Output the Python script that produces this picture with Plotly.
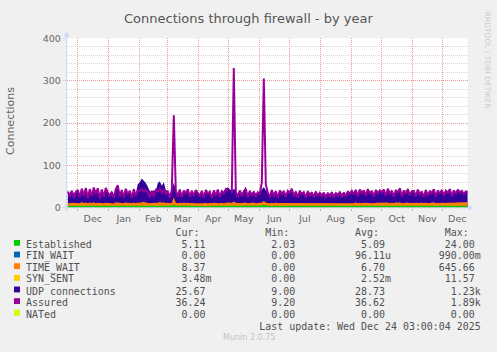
import numpy as np
import pandas as pd
import plotly.graph_objects as go

# ---- data: one value every 2 days, 2024-11-21 .. 2025-12-27 (None = no data) ----
established = (
    [5, 5, 4.5, 5, 5.5] +
    [5, 4.5, 5.5, 5, 5, 4.5, 5.5, 5, 5, 4.5, 5, 5.5, 4.5, 5, 5, 5] +
    [5, 5, 4.5, 5.5, 5, 5, 4.5, 5, 5.5, 5, 5, 4.5, 5, 5, 5.5] +
    [5, 5.5, 6, 5.5, 5, 5, 4.5, 5, 5, 5.5, 6, 5, 5.5, 5] +
    [5, 4.5, 5, 7, 5, 5, 4.5, 5, 5.5, 5, 5, 4.5, 5, 5, 4.5, 4] +
    [4, 3.5, 4, 4.5, 4, 5, 4.5, 5, 5, 4.5, 5, 5, 4.5, 5, 5] +
    [None] +
    [5, 6, 5, 5, 4.5, 5, 5.5, 5, 5, 4.5, 5, 5.5, 5, 5] +
    [5, 5.5, 7, 5.5, 5, 4.5, 5, 5, 5.5, 5, 4.5, 5, 5, 5.5, 5] +
    [5, 5, 4.5, 5, 5.5, 5, 5, 4.5, 5, 5, 5.5, 5, 4.5, 5, 5, 5] +
    [5, 4.5, 5, 5, 5.5, 5, 4.5, 5, 5, 5, 5.5, 5, 4.5, 5, 5] +
    [5, 5, 5.5, 5, 5, 4.5, 5, 5.5, 5, 5, 4.5, 5, 5, 5.5, 5] +
    [5, 5.5, 5, 5, 4.5, 5, 5, 5.5, 5, 5, 4.5, 5, 5.5, 5, 5, 5] +
    [5, 5, 4.5, 5, 5.5, 5, 5, 4.5, 5, 5, 5.5, 5, 5, 4.5] +
    [5, 5, 5.5, 5, 4.5, 5, 5, 5.5, 5, 5, 4.5, 5, 5, 5]
)
time_wait = (
    [7, 6, 7.5, 6.5, 7] +
    [7, 6, 8, 6.5, 7.5, 6, 7, 6.5, 8, 6, 7, 6, 7.5, 6, 7, 6.5] +
    [6, 7, 5.5, 7.5, 7, 6, 7, 6, 7.5, 6.5, 7, 6, 7.5, 6, 7] +
    [7, 7.5, 8, 7, 6.5, 6, 7, 6, 7, 6.5, 7.5, 7, 7.5, 6.5] +
    [7, 6, 7, 18, 7, 6, 7.5, 6, 7, 6.5, 7, 6, 7, 6, 6.5, 6] +
    [6, 6.5, 7, 7.5, 6, 7, 6, 7, 6.5, 7, 6, 7, 6.5, 7, 7.5] +
    [None] +
    [7, 9, 7, 6, 7, 6.5, 7, 7.5, 6, 7, 6.5, 7, 6, 7] +
    [6.5, 7, 9, 7, 6.5, 6, 7, 6, 7, 6, 7, 6.5, 7, 6, 7] +
    [6.5, 7, 6, 7, 6, 7, 6.5, 6.5, 6, 7, 6, 6.5, 6, 7, 6, 6.5] +
    [6, 6.5, 6, 7, 6, 6.5, 6, 7, 6.5, 6.5, 6, 7, 6, 7, 6.5] +
    [7, 6, 7.5, 6, 7, 6.5, 7, 6, 7.5, 6.5, 7, 6, 7, 6.5, 7] +
    [7, 7.5, 6.5, 7.5, 6.5, 7, 6, 7.5, 7, 8, 6.5, 7, 6.5, 7.5, 6.5, 7] +
    [7, 6.5, 7.5, 6.5, 7, 6, 7.5, 6.5, 7, 7, 7.5, 6, 7, 6.5] +
    [7.5, 6.5, 7, 7, 7.5, 6.5, 7, 7, 7.5, 7, 7, 7, 8, 8.4]
)
udp = (
    [27, 24, 29, 22, 28] +
    [30, 22, 33, 25, 34, 21, 32, 24, 35, 26, 33, 20, 31, 23, 34, 27] +
    [22, 27, 20, 30, 33, 22, 29, 21, 31, 24, 28, 20, 30, 23, 43] +
    [48, 56, 50, 46, 38, 28, 26, 30, 28, 46, 49, 40, 48, 30] +
    [28, 21, 30, 34, 29, 22, 31, 21, 30, 24, 32, 21, 29, 23, 31, 26] +
    [23, 29, 20, 31, 25, 28, 19, 30, 23, 32, 21, 29, 26, 33, 36] +
    [None] +
    [27, 30, 28, 21, 30, 22, 29, 38, 20, 30, 23, 28, 22, 27] +
    [25, 30, 33, 29, 27, 21, 31, 23, 29, 20, 31, 25, 28, 22, 30] +
    [26, 34, 22, 28, 20, 29, 24, 27, 19, 29, 23, 27, 21, 28, 22, 26] +
    [22, 26, 19, 25, 21, 27, 20, 25, 22, 27, 21, 26, 22, 28, 25] +
    [30, 24, 31, 22, 32, 26, 30, 23, 32, 25, 30, 22, 31, 25, 30] +
    [27, 32, 23, 33, 25, 30, 22, 31, 26, 34, 22, 30, 25, 33, 24, 29] +
    [30, 22, 31, 24, 28, 21, 31, 23, 29, 25, 32, 21, 30, 24] +
    [31, 23, 30, 26, 32, 22, 30, 24, 31, 27, 29, 24, 28, 26]
)
assured = (
    [38, 27, 40, 24, 36] +
    [42, 25, 45, 28, 47, 23, 44, 27, 48, 33, 46, 22, 43, 26, 47, 35] +
    [27, 38, 23, 44, 53, 27, 42, 25, 45, 32, 40, 24, 44, 28, 40] +
    [40, 44, 38, 42, 35, 25, 40, 27, 42, 38, 44, 36, 41, 33] +
    [38, 24, 42, 218, 40, 27, 43, 25, 41, 33, 44, 26, 40, 28, 42, 35] +
    [27, 40, 24, 42, 33, 38, 23, 41, 28, 43, 25, 39, 34, 44, 40] +
    [None] +
    [35, 330, 38, 25, 41, 27, 39, 44, 24, 40, 28, 38, 26, 36] +
    [32, 60, 305, 55, 36, 25, 42, 27, 39, 24, 41, 33, 38, 26, 40] +
    [35, 45, 27, 38, 24, 40, 32, 37, 23, 39, 28, 36, 25, 38, 27, 35] +
    [27, 36, 23, 35, 26, 37, 24, 34, 28, 38, 25, 36, 27, 39, 33] +
    [40, 32, 42, 27, 43, 35, 41, 28, 44, 33, 40, 26, 42, 34, 41] +
    [36, 43, 28, 45, 33, 40, 26, 42, 35, 46, 27, 41, 33, 44, 29, 39] +
    [40, 27, 43, 32, 38, 25, 42, 28, 40, 34, 44, 26, 41, 33] +
    [42, 28, 40, 35, 44, 27, 41, 33, 43, 36, 40, 32, 38, 36]
)

legend_labels = ["Established", "FIN_WAIT", "TIME_WAIT", "SYN_SENT",
                 "UDP connections", "Assured", "NATed"]
legend_colors = ["#00CC00", "#0066B3", "#FF8000", "#FFCC00",
                 "#330099", "#990099", "#CCFF00"]
cur_vals = ["5.11", "0.00", "8.37", "3.48m", "25.67", "36.24", "0.00"]
min_vals = ["2.03", "0.00", "0.00", "0.00", "9.00", "9.20", "0.00"]
avg_vals = ["5.09", "96.11u", "6.70", "2.52m", "28.73", "36.62", "0.00"]
max_vals = ["24.00", "990.00m", "645.66", "11.57", "1.23k", "1.89k", "0.00"]

n = len(assured)
dates = pd.date_range("2024-11-21 12:00", periods=n, freq="2D")

E = np.array(established, dtype=float)
T = np.array(time_wait, dtype=float)
U = np.array(udp, dtype=float)
A = np.array(assured, dtype=float)
stack1 = E
stack2 = E + T
stack3 = E + T + U

W, H = 497, 352
def PX(x): return x / W
def PY(y): return 1 - y / H

fig = go.Figure()
for ys, col in [(stack3, "#330099"), (stack2, "#FF8000"), (stack1, "#00CC00")]:
    fig.add_trace(go.Scatter(x=dates, y=ys, mode="lines", fill="tozeroy",
                             fillcolor=col, line=dict(width=0, color=col),
                             connectgaps=False, showlegend=False, hoverinfo="skip"))
fig.add_trace(go.Scatter(x=dates, y=A, mode="lines", line=dict(width=2, color="#990099"),
                         connectgaps=False, showlegend=False, hoverinfo="skip"))

MAJ = "#EE9A9A"
MIN = "#D4D4D4"
AX = "#CFD6F8"
FONT = "#666666"

fig.update_layout(
    width=W, height=H, margin=dict(l=0, r=0, t=0, b=0),
    paper_bgcolor="#F0F0F0", plot_bgcolor="#FFFFFF",
    xaxis=dict(domain=[PX(66.7), PX(467.7)], type="date",
               range=["2024-11-20 09:36", "2025-12-26 09:36"],
               dtick="M1", tick0="2024-12-01", tickformat="%b", ticklabelmode="period",
               showgrid=True, gridcolor=MAJ, griddash="1px,1px", gridwidth=1,
               ticks="outside", ticklen=2, tickcolor=MAJ,
               tickfont=dict(family="DejaVu Sans", size=9.5, color=FONT),
               showline=False, zeroline=False, fixedrange=True),
    yaxis=dict(domain=[PY(208.3), PY(33.3)], range=[0, 400], dtick=100, tick0=0,
               showgrid=True, gridcolor=MAJ, griddash="1px,1px", gridwidth=1,
               minor=dict(dtick=20, showgrid=True, gridcolor=MIN, griddash="1px,1px", ticks=""),
               ticks="outside", ticklen=3, tickcolor=AX,
               tickfont=dict(family="DejaVu Sans", size=9.5, color=FONT),
               showline=False, zeroline=False, fixedrange=True),
    showlegend=False,
)

shapes = []
# axes with arrows
shapes.append(dict(type="line", xref="paper", yref="paper", x0=PX(63.5), x1=PX(469), y0=PY(208.3), y1=PY(208.3), line=dict(color=AX, width=1)))
shapes.append(dict(type="path", xref="paper", yref="paper",
                   path=f"M {PX(468.5)} {PY(205.3)} L {PX(473.5)} {PY(208.3)} L {PX(468.5)} {PY(211.3)} Z",
                   fillcolor=AX, line=dict(width=0)))
shapes.append(dict(type="line", xref="paper", yref="paper", x0=PX(66.7), x1=PX(66.7), y0=PY(211.5), y1=PY(30), line=dict(color=AX, width=1)))
shapes.append(dict(type="path", xref="paper", yref="paper",
                   path=f"M {PX(63.7)} {PY(31.5)} L {PX(66.7)} {PY(26.5)} L {PX(69.7)} {PY(31.5)} Z",
                   fillcolor=AX, line=dict(width=0)))

annotations = []
annotations.append(dict(text="Connections through firewall - by year", x=PX(248), y=PY(13.3),
                        xref="paper", yref="paper", showarrow=False, xanchor="center", yanchor="middle",
                        font=dict(family="DejaVu Sans", size=13, color="#555555")))
annotations.append(dict(text="Connections", x=PX(10.7), y=PY(119), textangle=-90,
                        xref="paper", yref="paper", showarrow=False, xanchor="center", yanchor="middle",
                        font=dict(family="DejaVu Sans", size=11, color=FONT)))
annotations.append(dict(text="RRDTOOL / TOBI OETIKER", x=PX(487.5), y=PY(56), textangle=90,
                        xref="paper", yref="paper", showarrow=False, xanchor="center", yanchor="middle",
                        font=dict(family="DejaVu Sans", size=7.5, color="#CCCCCC")))
annotations.append(dict(text="Munin 2.0.75", x=PX(248.5), y=PY(342.5),
                        xref="paper", yref="paper", showarrow=False, xanchor="center", yanchor="middle",
                        font=dict(family="DejaVu Sans", size=8, color="#C4C4C4")))

def place(buf, s, col):
    for i, ch in enumerate(s):
        while len(buf) <= col + i:
            buf.append(" ")
        buf[col + i] = ch

def fmt_num(buf, v, end_col):
    num = v.rstrip("umk")
    unit = v[len(num):]
    place(buf, num, end_col - len(num) + 1)
    if unit:
        place(buf, unit, end_col + 1)

LX = 25.3
def legend_line(text, y):
    annotations.append(dict(text=text.replace(" ", "\u00a0"), x=PX(LX), y=PY(y),
                            xref="paper", yref="paper", showarrow=False,
                            xanchor="left", yanchor="middle", borderpad=0,
                            font=dict(family="DejaVu Sans Mono", size=9.95, color="#505050")))

hdr = []
place(hdr, "Cur:", 25); place(hdr, "Min:", 40); place(hdr, "Avg:", 55); place(hdr, "Max:", 70)
legend_line("".join(hdr), 234.0)

ROW0, DY = 246.2, 12.03
for i, lab in enumerate(legend_labels):
    y = ROW0 + DY * i
    buf = []
    place(buf, lab, 0)
    fmt_num(buf, cur_vals[i], 29)
    fmt_num(buf, min_vals[i], 44)
    fmt_num(buf, avg_vals[i], 59)
    fmt_num(buf, max_vals[i], 74)
    legend_line("".join(buf), y)
    ys = y - 1.7
    shapes.append(dict(type="rect", xref="paper", yref="paper",
                       x0=PX(14), x1=PX(20), y0=PY(ys - 3), y1=PY(ys + 3),
                       fillcolor=legend_colors[i], line=dict(width=0)))

lu = "Last update: Wed Dec 24 03:00:04 2025"
buf = []
place(buf, lu, 76 - len(lu))
legend_line("".join(buf), ROW0 + DY * 7)

fig.update_layout(shapes=shapes, annotations=annotations)
fig.write_html("out.html")
